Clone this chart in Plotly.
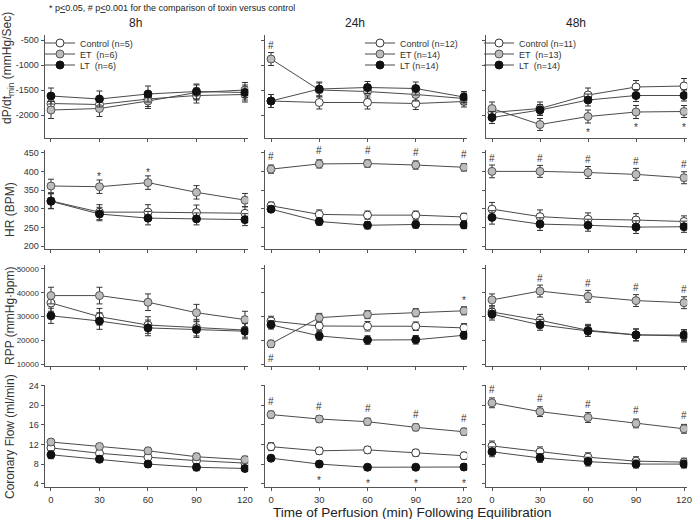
import plotly.graph_objects as go

W, H = 693, 519

# ---------------- data ----------------
times = [0, 30, 60, 90, 120]
studies = ["8h", "24h", "48h"]
groups = ["Control", "ET", "LT"]
legend_names_8h = ["Control (n=5)", "ET  (n=6)", "LT  (n=6)"]
legend_names_24h = ["Control (n=12)", "ET (n=14)", "LT (n=14)"]
legend_names_48h = ["Control (n=11)", "ET  (n=13)", "LT  (n=14)"]

# order inside each list: Control, ET, LT
dpdt_8h = [[-1770, -1790, -1680, -1610, -1590], [-1900, -1870, -1720, -1550, -1500], [-1620, -1680, -1580, -1530, -1550]]
dpdt_8h_err = [[150, 140, 150, 150, 150], [170, 160, 150, 150, 150], [160, 160, 160, 150, 150]]
dpdt_24h = [[-1720, -1750, -1750, -1770, -1730], [-880, -1500, -1530, -1590, -1670], [-1720, -1480, -1450, -1470, -1640]]
dpdt_24h_err = [[130, 130, 130, 120, 110], [130, 140, 130, 130, 110], [130, 140, 120, 130, 110]]
dpdt_48h = [[-1950, -1870, -1600, -1440, -1420], [-1870, -2190, -2030, -1940, -1930], [-2050, -1900, -1700, -1610, -1610]]
dpdt_48h_err = [[120, 130, 140, 130, 150], [130, 120, 130, 130, 120], [120, 110, 120, 120, 110]]

hr_8h = [[321, 291, 291, 290, 288], [361, 359, 370, 344, 323], [320, 286, 275, 273, 271]]
hr_8h_err = [[20, 20, 20, 20, 18], [18, 18, 18, 18, 18], [20, 18, 18, 16, 16]]
hr_24h = [[308, 285, 283, 283, 278], [406, 420, 421, 417, 411], [299, 266, 256, 258, 257]]
hr_24h_err = [[10, 12, 11, 11, 10], [11, 11, 10, 11, 10], [9, 10, 10, 10, 10]]
hr_48h = [[299, 279, 272, 270, 266], [400, 400, 397, 392, 383], [277, 259, 256, 251, 252]]
hr_48h_err = [[18, 18, 17, 17, 15], [17, 16, 16, 16, 16], [18, 17, 16, 17, 15]]

rpp_8h = [[35700, 29900, 26400, 25300, 24300], [38800, 38800, 36000, 31600, 28700], [30300, 28100, 25200, 24500, 23800]]
rpp_8h_err = [[3500, 3500, 3500, 3500, 3000], [3500, 3500, 3500, 3500, 3500], [3200, 3500, 3300, 3300, 3200]]
rpp_24h = [[28100, 26000, 25900, 25900, 25200], [18500, 29500, 30800, 31600, 32400], [26500, 21800, 20100, 20200, 22100]]
rpp_24h_err = [[2000, 2000, 2000, 1800, 1800], [1500, 1800, 1700, 1700, 1700], [1800, 1800, 1800, 1800, 1600]]
rpp_48h = [[31900, 28400, 24200, 22300, 21800], [37000, 40700, 38500, 36700, 35800], [31000, 26500, 23900, 22200, 22200]]
rpp_48h_err = [[2500, 2500, 2500, 2500, 2500], [2500, 2500, 2500, 2500, 2500], [2500, 2300, 2300, 2500, 2300]]

cf_8h = [[11.3, 10.2, 9.4, 8.7, 8.2], [12.5, 11.6, 10.7, 9.5, 8.9], [9.9, 9.0, 8.0, 7.35, 7.1]]
cf_8h_err = [[0.7, 0.7, 0.7, 0.7, 0.6], [0.6, 0.6, 0.7, 0.7, 0.7], [0.8, 0.7, 0.7, 0.7, 0.6]]
cf_24h = [[11.55, 10.7, 10.9, 10.3, 9.7], [18.1, 17.2, 16.65, 15.5, 14.6], [9.2, 8.0, 7.35, 7.35, 7.4]]
cf_24h_err = [[0.8, 0.7, 0.7, 0.7, 0.7], [0.7, 0.7, 0.7, 0.7, 0.7], [0.6, 0.6, 0.6, 0.6, 0.6]]
cf_48h = [[11.7, 10.5, 9.4, 8.6, 8.4], [20.5, 18.7, 17.5, 16.3, 15.2], [10.5, 9.25, 8.5, 8.0, 8.0]]
cf_48h_err = [[1.0, 1.0, 0.9, 0.9, 0.8], [1.0, 1.0, 1.0, 0.9, 0.9], [1.0, 0.9, 0.9, 0.8, 0.8]]

dpdt_ticks = [-2000, -1500, -1000, -500]
hr_ticks = [200, 250, 300, 350, 400, 450]
rpp_ticks = [10000, 20000, 30000, 40000, 50000]
cf_ticks = [4, 8, 12, 16, 20, 24]

# significance marks: (time index, group index, symbol, side)
sig_dpdt_24h = [(0, 1, "#", "above")]
sig_dpdt_48h = [(2, 1, "*", "below"), (3, 1, "*", "below"), (4, 1, "*", "below")]
sig_hr_8h = [(1, 1, "*", "above"), (2, 1, "*", "above")]
sig_hr_24h = [(i, 1, "#", "above") for i in range(5)]
sig_hr_48h = [(i, 1, "#", "above") for i in range(5)]
sig_rpp_24h = [(0, 1, "#", "below"), (4, 1, "*", "above")]
sig_rpp_48h = [(i, 1, "#", "above") for i in range(1, 5)]
sig_cf_24h = [(i, 1, "#", "above") for i in range(5)] + [(i, 2, "*", "below") for i in range(1, 5)]
sig_cf_48h = [(i, 1, "#", "above") for i in range(5)]

# ---------------- layout helpers ----------------
rows = [
    dict(data=[dpdt_8h, dpdt_24h, dpdt_48h], err=[dpdt_8h_err, dpdt_24h_err, dpdt_48h_err],
         sig=[[], sig_dpdt_24h, sig_dpdt_48h], ticks=dpdt_ticks, rng=[-2450, -400], px=(35, 137.5), tf=9),
    dict(data=[hr_8h, hr_24h, hr_48h], err=[hr_8h_err, hr_24h_err, hr_48h_err],
         sig=[sig_hr_8h, sig_hr_24h, sig_hr_48h], ticks=hr_ticks, rng=[193, 458], px=(149.7, 248.8), tf=9),
    dict(data=[rpp_8h, rpp_24h, rpp_48h], err=[rpp_8h_err, rpp_24h_err, rpp_48h_err],
         sig=[[], sig_rpp_24h, sig_rpp_48h], ticks=rpp_ticks, rng=[9000, 51500], px=(265.4, 366.4), tf=8),
    dict(data=[cf_8h, cf_24h, cf_48h], err=[cf_8h_err, cf_24h_err, cf_48h_err],
         sig=[[], sig_cf_24h, sig_cf_48h], ticks=cf_ticks, rng=[3.3, 24.2], px=(384.7, 487.1), tf=9),
]
col_px = [(44.5, 248.2), (264.6, 467.2), (485.6, 687.2)]
legend_names = [legend_names_8h, legend_names_24h, legend_names_48h]
# legend anchor (left px, first-row centre px) per column; one single-entry legend per series
legend_px = [(40, 43), (360, 43), (479, 43)]
LEG_STEP = 11

fills = ["#ffffff", "#bcbcbc", "#111111"]
edges = ["#3a3a3a", "#555555", "#111111"]
LINE = "#4a4a4a"
AX = "#555555"
FONT = "Liberation Sans, Arial, sans-serif"

fig = go.Figure()
layout = {}
annotations = []

for r, row in enumerate(rows):
    for c in range(3):
        i = r * 3 + c + 1
        xa = "x" if i == 1 else f"x{i}"
        ya = "y" if i == 1 else f"y{i}"
        xkey = "xaxis" if i == 1 else f"xaxis{i}"
        ykey = "yaxis" if i == 1 else f"yaxis{i}"
        vals = row["data"][c]
        errs = row["err"][c]
        for g in range(3):
            k = c * 3 + g + 1
            lid = "legend" if k == 1 else f"legend{k}"
            fig.add_trace(go.Scatter(
                x=times, y=vals[g], xaxis=xa, yaxis=ya,
                mode="lines+markers",
                name=legend_names[c][g],
                legend=lid,
                showlegend=(r == 0),
                line=dict(color=LINE, width=1),
                marker=dict(symbol="circle", size=8, color=fills[g],
                            line=dict(color=edges[g], width=1)),
                error_y=dict(type="data", array=errs[g], visible=True,
                             color="#333333", thickness=1, width=3),
                hoverinfo="skip",
            ))
        for (ti, g, sym, side) in row["sig"][c]:
            annotations.append(dict(
                x=times[ti], y=vals[g][ti], xref=xa, yref=ya, text=sym,
                xanchor="center", yanchor="middle",
                showarrow=False, font=dict(size=10, color="#333333", family=FONT),
                yshift=(13 if side == "above" else -15) if sym == "#" else (10 if side == "above" else -16),
            ))
        x0, x1 = col_px[c]
        y0, y1 = row["px"]
        layout[xkey] = dict(
            domain=[x0 / W, x1 / W], range=[-4, 122], anchor=ya, automargin=False,
            tickvals=times, ticktext=[str(t) for t in times],
            showticklabels=(r == 3),
            ticks="outside", ticklen=3, tickcolor=AX, showline=True, linecolor=AX, linewidth=1,
            showgrid=False, zeroline=False,
            tickfont=dict(size=9.5, color="#333", family=FONT),
        )
        layout[ykey] = dict(
            domain=[1 - y1 / H, 1 - y0 / H], range=row["rng"], anchor=xa, automargin=False,
            tickvals=row["ticks"], ticktext=[str(t) for t in row["ticks"]],
            showticklabels=(c == 0),
            ticks="outside", ticklen=3, tickcolor=AX, showline=True, linecolor=AX, linewidth=1,
            showgrid=False, zeroline=False,
            tickfont=dict(size=row["tf"], color="#333", family=FONT),
        )

# legends: one entry each so rows can sit closer than Plotly's default item spacing
for c in range(3):
    lx, ly = legend_px[c]
    for g in range(3):
        k = c * 3 + g + 1
        lid = "legend" if k == 1 else f"legend{k}"
        layout[lid] = dict(
            x=lx / W, y=1 - (ly + g * LEG_STEP) / H, xanchor="left", yanchor="middle",
            font=dict(size=9, color="#333", family=FONT), bgcolor="rgba(0,0,0,0)",
            itemwidth=30, borderwidth=0,
        )


def paper_note(text, xp, yp, size, xanchor="center", angle=0, color="#222"):
    return dict(x=xp / W, y=1 - yp / H, xref="paper", yref="paper", text=text,
                xanchor=xanchor, yanchor="middle", textangle=angle, showarrow=False,
                font=dict(size=size, color=color, family=FONT))


# column titles
for txt, xp in zip(studies, [135, 355, 576]):
    annotations.append(paper_note(txt, xp, 23, 12))

# y titles
ytitles = [("dP/dt<sub>min</sub> (mmHg/Sec)", 8, 68), ("HR (BPM)", 10, 210),
           ("RPP (mmHg·bpm)", 10, 316), ("Coronary Flow (ml/min)", 10, 437)]
for txt, xp, yp in ytitles:
    annotations.append(paper_note(txt, xp, yp, 12, angle=-90, color="#333"))

annotations.append(paper_note("Time of Perfusion (min) Following Equilibration", 412, 512, 13.5))
annotations.append(paper_note(
    "* p<u>&lt;</u>0.05, # p<u>&lt;</u>0.001 for the comparison of toxin versus control",
    47, 8, 9, xanchor="left"))

fig.update_layout(
    width=W, height=H, margin=dict(l=0, r=0, t=0, b=0, autoexpand=False),
    paper_bgcolor="white", plot_bgcolor="white",
    font=dict(family=FONT, color="#333"),
    annotations=annotations, **layout,
)

fig.write_html(
    "out.html",
    config={"displayModeBar": False},
    post_script="document.body.style.margin='0';document.body.style.padding='0';document.body.style.overflow='hidden';",
)
